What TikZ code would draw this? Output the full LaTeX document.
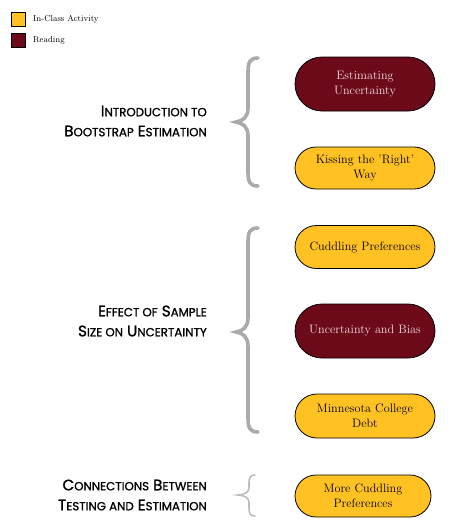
\documentclass[tikz,border=0pt]{standalone}
\usepackage{fontspec}
\setmainfont{Latin Modern Roman}
\newfontfamily\headfont{Poppins}[UprightFeatures={FakeBold=1.2}]
\usetikzlibrary{shapes.misc}
\definecolor{actyellow}{HTML}{FFC222}
\definecolor{readred}{HTML}{6C0A19}
\definecolor{readtext}{HTML}{F2DDE2}
\definecolor{bracegray}{HTML}{AAAAAA}
\definecolor{bracelight}{HTML}{BDBDBD}
\newcommand\hsc[2]{{\fontsize{15.2}{20}\selectfont #1}{\fontsize{11.8}{20}\selectfont #2}}
\tikzset{
  pill/.style={rounded rectangle, draw=black, line width=0.8pt, minimum width=144pt,
    text width=124pt, align=center, font=\fontsize{12.2}{15.5}\selectfont, inner sep=2pt},
  activity/.style={pill, fill=actyellow, text=black, minimum height=43pt},
  reading/.style={pill, fill=readred, text=readtext, minimum height=54pt},
  heading/.style={anchor=east, align=right, font=\headfont\fontsize{15.2}{20}\selectfont, inner sep=0pt},
  legendbox/.style={draw=black, line width=0.8pt, minimum width=14pt, minimum height=14pt, inner sep=0pt},
  legendtext/.style={anchor=west, font=\fontsize{8.6}{10}\selectfont, inner sep=0pt},
  bigbrace/.style={draw=bracegray, line width=3.6pt, line cap=round},
  smallbrace/.style={draw=bracelight, line width=1.6pt, line cap=round}
}
\begin{document}
\begin{tikzpicture}[x=1pt,y=-1pt]
\useasboundingbox (0,0) rectangle (448,528);
% legend
\node[legendbox, fill=actyellow] (lg1) at (18,19) {};
\node[legendbox, fill=readred] (lg2) at (18,40) {};
\node[legendtext] (lt1) at (33,19) {In-Class Activity};
\node[legendtext] (lt2) at (33,40) {Reading};
% boxes
\node[reading] (b1) at (365,84) {Estimating\\Uncertainty};
\node[activity, minimum height=42pt] (b2) at (365,168) {Kissing the 'Right'\\Way};
\node[activity] (b3) at (365,247) {Cuddling Preferences};
\node[reading] (b4) at (365,331) {Uncertainty and Bias};
\node[activity, minimum height=44pt] (b5) at (365,416) {Minnesota College\\Debt};
\node[activity, minimum height=42pt, minimum width=140pt] (b6) at (363,496) {More Cuddling\\Preferences};
% headings
\node[heading] (h1) at (207,121) {\hsc{I}{NTRODUCTION TO}\\\hsc{B}{OOTSTRAP} \hsc{E}{STIMATION}};
\node[heading] (h2) at (207,321) {\hsc{E}{FFECT OF} \hsc{S}{AMPLE}\\\hsc{S}{IZE ON} \hsc{U}{NCERTAINTY}};
\node[heading] (h3) at (207,495) {\hsc{C}{ONNECTIONS} \hsc{B}{ETWEEN}\\\hsc{T}{ESTING AND} \hsc{E}{STIMATION}};
% braces
\draw[bigbrace] (258,58) .. controls (250,58) and (248,62) .. (248,72) -- (248,108)
  .. controls (248,117) and (243,121) .. (236,122)
  .. controls (243,123) and (248,127) .. (248,136) -- (248,172)
  .. controls (248,182) and (250,186) .. (258,186);
\draw[bigbrace] (258,228) .. controls (250,228) and (248,232) .. (248,242) -- (248,318)
  .. controls (248,327) and (243,331) .. (236,332)
  .. controls (243,333) and (248,337) .. (248,346) -- (248,418)
  .. controls (248,428) and (250,432) .. (258,432);
\draw[smallbrace] (255,475) .. controls (250,475) and (249,478) .. (249,483) -- (249,488)
  .. controls (249,492) and (244,495) .. (238,495)
  .. controls (244,495) and (249,498) .. (249,502) -- (249,508)
  .. controls (249,513) and (250,516) .. (255,516);
\end{tikzpicture}
\end{document}
